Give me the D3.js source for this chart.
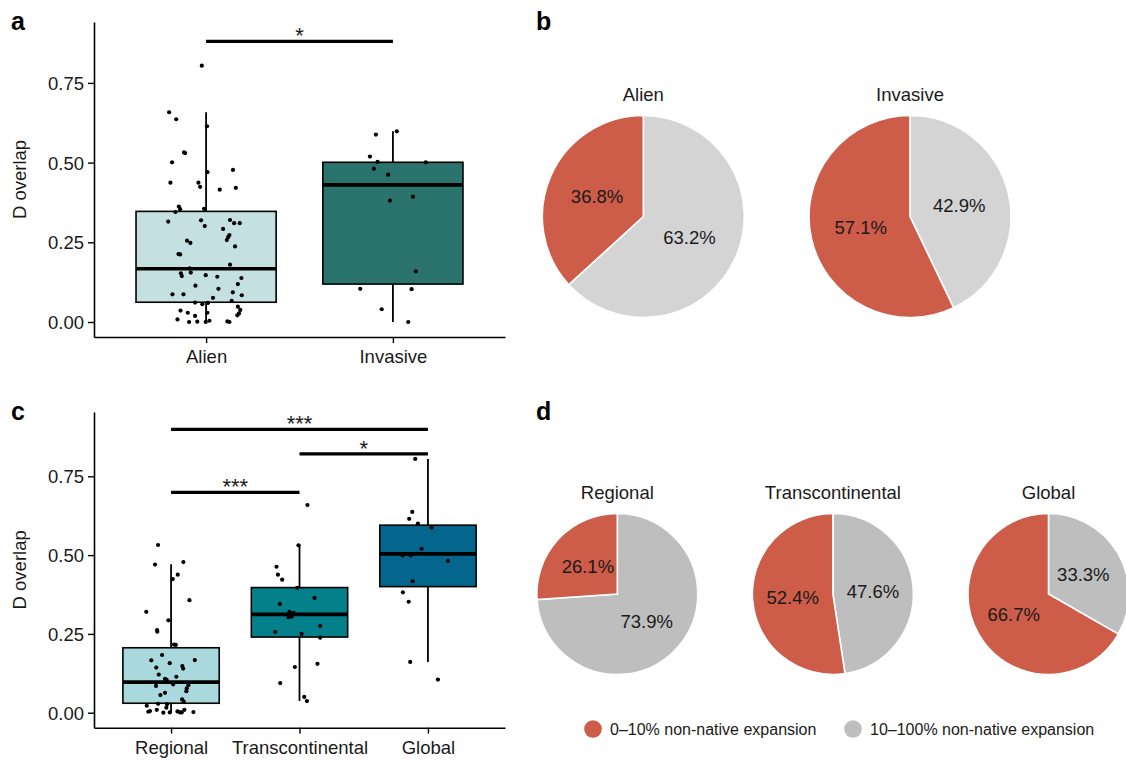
<!DOCTYPE html>
<html>
<head>
<meta charset="utf-8">
<script src="https://cdn.jsdelivr.net/npm/d3@7"></script>
<style>
  html, body { margin: 0; padding: 0; background: #fff; }
  svg { display: block; font-family: "Liberation Sans", Arial, Helvetica, sans-serif; }
</style>
</head>
<body>
<svg id="fig" width="1126" height="760"></svg>
<script>
// ---- Panel a: D overlap, Alien vs Invasive ----
const catsA = ["Alien", "Invasive"];
// box summaries: [lower whisker, Q1, median, Q3, upper whisker]
const boxA = [
  [0.000, 0.062, 0.167, 0.347, 0.658],
  [0.000, 0.119, 0.430, 0.501, 0.598]
];
const fillA = ["#c4e0e0", "#2b746e"];
// per-species values and horizontal jitter (in category units)
const alienVals = [0.804,0.658,0.636,0.614,0.530,0.532,0.501,0.470,0.477,0.437,0.437,0.424,0.415,0.421,
  0.362,0.354,0.345,0.355,0.315,0.319,0.301,0.320,0.310,0.292,0.273,0.266,0.257,0.255,0.248,0.237,
  0.213,0.212,0.180,0.153,0.144,0.155,0.147,0.142,0.138,0.114,0.119,0.104,0.087,0.087,0.093,0.084,
  0.076,0.061,0.056,0.066,0.048,0.036,0.029,0.029,0.019,0.038,0.027,0.021,0.008,0.000,0.001,0.000,
  0.004,0.002,0.000,0.168,0.310,0.060];
const alienJit = [-0.023,-0.198,-0.160,0.005,-0.112,-0.118,-0.182,0.007,0.144,-0.191,-0.041,-0.032,0.073,0.159,
  -0.146,-0.139,-0.164,-0.011,-0.203,-0.027,-0.007,0.128,0.180,0.091,0.125,0.118,0.111,-0.102,-0.084,0.155,
  -0.148,-0.139,0.128,-0.135,-0.130,-0.082,-0.002,0.060,0.189,-0.057,0.170,0.066,-0.180,-0.121,0.143,0.191,
  0.037,-0.059,-0.020,0.137,0.170,-0.137,-0.098,0.007,-0.059,0.183,0.176,0.167,-0.153,-0.091,-0.047,-0.002,
  0.018,0.114,0.125,-0.088,0.150,0.010];
const invasiveVals = [0.588,0.598,0.519,0.502,0.501,0.481,0.462,0.381,0.393,0.159,0.104,0.103,0.040,0.000];
const invasiveJit = [-0.091,0.021,-0.123,-0.082,0.176,-0.102,-0.025,-0.016,0.107,0.123,-0.175,0.100,-0.060,0.082];
const sigA = [{from: 0, to: 1, y: 0.880, label: "*"}];

// ---- Panel c: D overlap by range of spread ----
const catsC = ["Regional", "Transcontinental", "Global"];
const boxC = [
  [0.000, 0.030, 0.097, 0.206, 0.471],
  [0.037, 0.240, 0.312, 0.397, 0.534],
  [0.161, 0.400, 0.504, 0.595, 0.805]
];
const fillC = ["#a9d9dc", "#04808a", "#05668d"];
const regionalVals = [0.532,0.470,0.478,0.438,0.424,0.357,0.320,0.293,0.262,0.257,0.216,0.215,0.183,0.166,
  0.167,0.157,0.148,0.140,0.143,0.121,0.114,0.107,0.104,0.090,0.085,0.087,0.077,0.068,0.063,0.056,0.042,
  0.035,0.022,0.028,0.009,0.027,0.016,0.003,0.005,0.001,0.001,0.009,0.001,0.002,0.000,0.004];
const regionalJit = [-0.101,-0.125,0.096,0.052,0.013,0.143,-0.193,-0.021,-0.109,-0.107,0.023,0.037,-0.070,-0.154,
  0.185,-0.010,0.088,0.094,-0.115,-0.096,0.041,-0.047,-0.034,0.016,-0.117,0.135,0.122,0.119,-0.047,-0.083,0.086,
  0.099,-0.189,-0.101,-0.111,-0.031,-0.037,-0.177,-0.164,-0.010,0.070,0.104,0.083,0.174,-0.060,0.050];
const transVals = [0.659,0.531,0.463,0.438,0.422,0.396,0.364,0.345,0.320,0.303,0.317,0.275,0.256,0.250,
  0.238,0.155,0.145,0.094,0.050,0.037,0.305];
const transJit = [0.062,-0.008,-0.179,-0.168,-0.135,-0.018,0.117,-0.153,-0.078,-0.086,-0.047,0.161,-0.189,0.016,
  0.161,0.140,-0.036,-0.150,0.037,0.058,-0.060];
const globalVals = [0.805,0.637,0.615,0.600,0.587,0.520,0.499,0.499,0.482,0.417,0.382,0.352,0.161,0.105];
const globalJit = [-0.099,-0.122,-0.146,-0.078,0.029,-0.049,-0.197,-0.135,0.156,-0.119,-0.195,-0.150,-0.138,0.078];
const sigC = [
  {from: 0, to: 2, y: 0.899, label: "***"},
  {from: 1, to: 2, y: 0.821, label: "*"},
  {from: 0, to: 1, y: 0.699, label: "***"}
];

const yTicks = [0, 0.25, 0.5, 0.75];

// ---- Panels b and d: share of non-native expansion ----
const pieCatsB = ["Alien", "Invasive"];
const lowShareB = [36.8, 57.1];   // 0–10% non-native expansion
const highShareB = [63.2, 42.9];  // 10–100% non-native expansion
const pieCatsD = ["Regional", "Transcontinental", "Global"];
const lowShareD = [26.1, 52.4, 66.7];
const highShareD = [73.9, 47.6, 33.3];
const legendLabels = ["0–10% non-native expansion", "10–100% non-native expansion"];

const RED = "#cd5c48";
const GREY_B = "#d4d4d4";
const GREY_D = "#bebebe";
const TEXT = "#1a1a1a";

const svg = d3.select("#fig");

function boxPanel(opts) {
  const g = svg.append("g");
  const n = opts.cats.length;
  const x = d3.scaleLinear().domain([0.4, n + 0.6]).range([opts.left, opts.right]);
  const y = d3.scaleLinear().domain(opts.yDomain).range([opts.bottom, opts.top]);

  // axes
  const yAx = g.append("g").attr("transform", `translate(${opts.left},0)`)
    .call(d3.axisLeft(y).tickValues(yTicks).tickFormat(d3.format(".2f")).tickSize(6).tickSizeOuter(0));
  const xAx = g.append("g").attr("transform", `translate(0,${opts.bottom})`)
    .call(d3.axisBottom(x).tickValues(d3.range(1, n + 1)).tickFormat(i => opts.cats[i - 1]).tickSize(6).tickSizeOuter(0));
  [yAx, xAx].forEach(ax => {
    ax.select(".domain").attr("stroke", "#000").attr("stroke-width", 1.6);
    ax.selectAll(".tick line").attr("stroke", "#000").attr("stroke-width", 1.4);
    ax.selectAll(".tick text").attr("fill", TEXT).style("font-size", "18.5px")
      .style("font-family", "'Liberation Sans', Arial, sans-serif");
  });
  yAx.selectAll(".tick text").attr("x", -10).attr("dy", "0.36em");
  xAx.selectAll(".tick text").attr("y", 12).attr("dy", "0.75em");

  g.append("text")
    .attr("transform", `translate(${opts.left - 74},${(opts.top + opts.bottom) / 2}) rotate(-90)`)
    .attr("text-anchor", "middle").attr("dy", "0.35em")
    .style("font-size", "18.5px").attr("fill", TEXT).text("D overlap");

  // boxes
  const hw = 0.375;
  opts.box.forEach((b, i) => {
    const cx = i + 1;
    const [lo, q1, med, q3, hi] = b;
    g.append("line").attr("x1", x(cx)).attr("x2", x(cx)).attr("y1", y(q3)).attr("y2", y(hi))
      .attr("stroke", "#000").attr("stroke-width", 1.8);
    g.append("line").attr("x1", x(cx)).attr("x2", x(cx)).attr("y1", y(q1)).attr("y2", y(lo))
      .attr("stroke", "#000").attr("stroke-width", 1.8);
    g.append("rect").attr("x", x(cx - hw)).attr("y", y(q3))
      .attr("width", x(cx + hw) - x(cx - hw)).attr("height", y(q1) - y(q3))
      .attr("fill", opts.fills[i]).attr("stroke", "#000").attr("stroke-width", 1.6);
    g.append("line").attr("x1", x(cx - hw)).attr("x2", x(cx + hw)).attr("y1", y(med)).attr("y2", y(med))
      .attr("stroke", "#000").attr("stroke-width", 3.6);
  });

  // jittered points
  opts.points.forEach((p, i) => {
    g.append("g").selectAll("circle").data(d3.zip(p.vals, p.jit)).join("circle")
      .attr("cx", d => x(i + 1 + d[1])).attr("cy", d => y(d[0])).attr("r", 2.1).attr("fill", "#000");
  });

  // significance brackets
  opts.sig.forEach(s => {
    g.append("line").attr("x1", x(s.from + 1)).attr("x2", x(s.to + 1))
      .attr("y1", y(s.y)).attr("y2", y(s.y)).attr("stroke", "#000").attr("stroke-width", 3.2);
    g.append("text").attr("x", (x(s.from + 1) + x(s.to + 1)) / 2).attr("y", y(s.y) + 2)
      .attr("text-anchor", "middle").style("font-size", "22px").attr("fill", TEXT).text(s.label);
  });
}

boxPanel({
  cats: catsA, box: boxA, fills: fillA, sig: sigA,
  points: [{vals: alienVals, jit: alienJit}, {vals: invasiveVals, jit: invasiveJit}],
  left: 94, right: 505, top: 22, bottom: 337, yDomain: [-0.047, 0.941]
});
boxPanel({
  cats: catsC, box: boxC, fills: fillC, sig: sigC,
  points: [{vals: regionalVals, jit: regionalJit}, {vals: transVals, jit: transJit}, {vals: globalVals, jit: globalJit}],
  left: 94, right: 505, top: 412, bottom: 727.7, yDomain: [-0.0476, 0.954]
});

// pies
function piePanel(cats, low, high, grey, cxRange, cy, r) {
  const cxScale = d3.scalePoint().domain(cats).range(cxRange);
  const pie = d3.pie().sort(null).value(d => d.v);
  const arc = d3.arc().innerRadius(0).outerRadius(r);
  cats.forEach((c, i) => {
    const slices = [{v: high[i], col: grey}, {v: low[i], col: RED}];
    const g = svg.append("g").attr("transform", `translate(${cxScale(c)},${cy})`);
    const arcs = pie(slices);
    g.selectAll("path").data(arcs).join("path")
      .attr("d", arc).attr("fill", d => d.data.col).attr("stroke", "#fff").attr("stroke-width", 1.6);
    g.selectAll("text.lab").data(arcs).join("text").attr("class", "lab")
      .attr("x", d => Math.sin((d.startAngle + d.endAngle) / 2) * r * 0.5)
      .attr("y", d => -Math.cos((d.startAngle + d.endAngle) / 2) * r * 0.5)
      .attr("text-anchor", "middle").attr("dy", "0.36em")
      .style("font-size", "18.5px").attr("fill", TEXT)
      .text(d => d3.format(".1f")(d.data.v) + "%");
    g.append("text").attr("x", 0).attr("y", -r - 15)
      .attr("text-anchor", "middle").style("font-size", "18.5px").attr("fill", TEXT).text(c);
  });
}
piePanel(pieCatsB, lowShareB, highShareB, GREY_B, [643.3, 910], 216.5, 101);
piePanel(pieCatsD, lowShareD, highShareD, GREY_D, [617.3, 1048.5], 594, 80.5);

// legend
const legCols = [RED, GREY_D];
const legX = [593, 853];
legendLabels.forEach((t, i) => {
  svg.append("circle").attr("cx", legX[i]).attr("cy", 729).attr("r", 8.8).attr("fill", legCols[i]);
  svg.append("text").attr("x", legX[i] + 17).attr("y", 729).attr("dy", "0.36em")
    .style("font-size", "16px").attr("fill", TEXT).text(t);
});

// panel letters
[["a", 11, 30], ["b", 536, 30], ["c", 11, 420], ["d", 536, 420]].forEach(([t, px, py]) => {
  svg.append("text").attr("x", px).attr("y", py).style("font-size", "25px")
    .style("font-weight", "bold").attr("fill", "#000").text(t);
});
</script>
</body>
</html>
